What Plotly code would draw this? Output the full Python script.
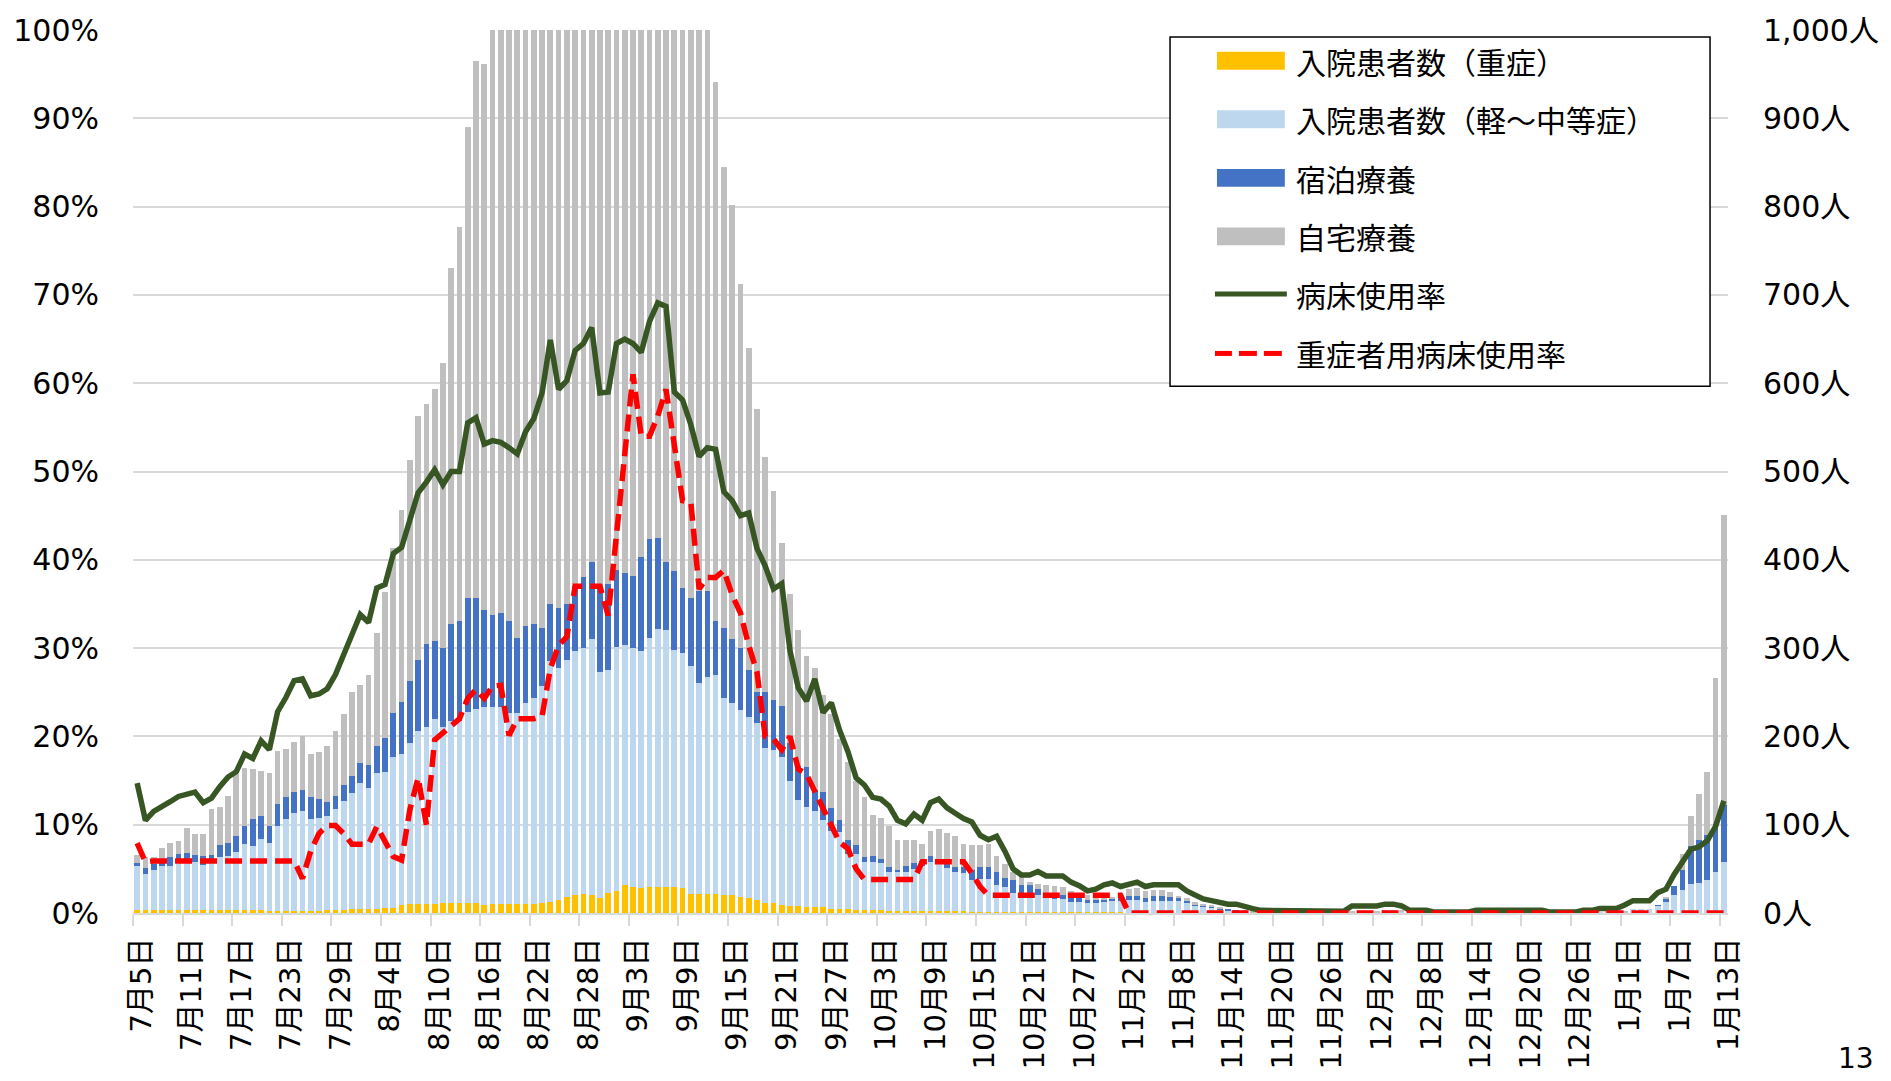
import plotly.graph_objects as go
import pandas as pd

# ---------------- data ----------------
START_DATE = "2021-07-05"
N_DAYS = 193
DATES = pd.date_range(START_DATE, periods=N_DAYS)

TICK_LABELS = ["7月5日", "7月11日", "7月17日", "7月23日", "7月29日", "8月4日", "8月10日",
               "8月16日", "8月22日", "8月28日", "9月3日", "9月9日", "9月15日", "9月21日",
               "9月27日", "10月3日", "10月9日", "10月15日", "10月21日", "10月27日", "11月2日",
               "11月8日", "11月14日", "11月20日", "11月26日", "12月2日", "12月8日", "12月14日",
               "12月20日", "12月26日", "1月1日", "1月7日", "1月13日"]
TICK_EVERY = 6

# 入院患者数（重症） [人]
severe = [3, 3, 3, 3, 3, 3, 3, 3, 3, 3,
          3, 3, 3, 3, 3, 3, 2, 2, 2, 2,
          2, 2, 2, 3, 3, 3, 4, 4, 4, 4,
          6, 6, 9, 10, 10, 10, 10, 11, 11, 11,
          11, 11, 9, 10, 10, 10, 10, 10, 10, 11,
          12, 15, 18, 20, 21, 20, 17, 23, 25, 32,
          30, 28, 30, 30, 30, 29, 28, 22, 22, 22,
          22, 20, 20, 18, 17, 15, 11, 11, 9, 8,
          8, 7, 7, 7, 5, 5, 5, 3, 3, 3,
          3, 2, 2, 2, 2, 2, 2, 2, 2, 2,
          2, 1, 1, 1, 1, 1, 1, 1, 1, 1,
          1, 1, 1, 1, 1, 1, 1, 1, 1, 1,
          0, 0, 0, 0, 0, 0, 0, 0, 0, 0,
          0, 0, 0, 0, 0, 0, 0, 0, 0, 0,
          0, 0, 0, 0, 0, 0, 0, 0, 0, 0,
          0, 0, 0, 0, 0, 0, 0, 0, 0, 0,
          0, 0, 0, 0, 0, 0, 0, 0, 0, 0,
          0, 0, 0, 0, 0, 0, 0, 0, 0, 0,
          0, 0, 0, 0, 0, 0, 0, 0, 0, 0,
          0, 0, 0]

# 入院患者数（軽～中等症） [人]
mild = [50, 41, 46, 50, 50, 54, 54, 55, 51, 58,
        60, 62, 66, 75, 73, 81, 77, 96, 104, 111,
        113, 104, 106, 107, 115, 124, 132, 143, 138, 155,
        154, 171, 171, 183, 196, 201, 210, 200, 207, 207,
        217, 220, 224, 223, 223, 217, 216, 228, 233, 246,
        273, 263, 269, 277, 279, 290, 256, 252, 276, 271,
        270, 269, 282, 292, 290, 269, 267, 258, 238, 245,
        248, 223, 218, 212, 205, 200, 176, 174, 168, 142,
        120, 113, 108, 98, 88, 87, 62, 64, 55, 55,
        54, 45, 45, 45, 48, 51, 56, 56, 49, 45,
        43, 36, 38, 38, 31, 29, 22, 21, 21, 19,
        16, 15, 15, 12, 11, 10, 10, 11, 13, 13,
        15, 15, 12, 14, 14, 14, 14, 11, 9, 7,
        6, 4, 3, 2, 2, 1, 1, 1, 1, 1,
        1, 1, 1, 1, 1, 1, 1, 1, 1, 1,
        1, 2, 2, 2, 1, 1, 1, 1, 1, 1,
        1, 1, 1, 1, 1, 1, 1, 1, 1, 1,
        1, 1, 1, 1, 1, 1, 1, 1, 1, 1,
        1, 4, 4, 4, 8, 12, 20, 26, 33, 34,
        37, 46, 58]

# 宿泊療養 [人]
hotel = [4, 7, 6, 7, 10, 10, 11, 8, 10, 5,
         14, 14, 18, 21, 30, 26, 20, 25, 25, 24,
         24, 25, 21, 16, 15, 18, 19, 23, 26, 30,
         38, 50, 59, 70, 81, 94, 88, 89, 109, 113,
         129, 126, 110, 105, 107, 104, 86, 87, 84, 66,
         65, 67, 63, 73, 80, 87, 97, 98, 88, 82,
         82, 106, 111, 103, 77, 89, 73, 77, 105, 98,
         61, 80, 72, 70, 53, 35, 63, 56, 58, 43,
         39, 45, 24, 32, 26, 13, 16, 10, 5, 7,
         4, 5, 2, 6, 7, 6, 7, 1, 4, 5,
         7, 12, 13, 13, 15, 10, 14, 10, 10, 7,
         6, 4, 4, 5, 5, 4, 4, 3, 2, 3,
         4, 4, 5, 5, 5, 4, 3, 3, 1, 2,
         1, 1, 1, 1, 0, 0, 0, 0, 0, 0,
         0, 0, 0, 0, 0, 0, 0, 0, 0, 0,
         0, 0, 0, 0, 0, 0, 0, 0, 0, 0,
         0, 0, 0, 0, 0, 0, 0, 0, 0, 0,
         0, 0, 0, 0, 0, 0, 0, 0, 0, 0,
         0, 0, 0, 0, 1, 4, 11, 23, 43, 49,
         51, 55, 64]

# 自宅療養 [人] (bars above 1,000人 are cut off by the axis)
home = [9, 12, 8, 14, 16, 14, 28, 24, 26, 52,
        43, 53, 70, 65, 57, 51, 60, 60, 55, 57,
        62, 49, 53, 63, 73, 80, 95, 88, 101, 128,
        165, 186, 217, 250, 276, 271, 285, 323, 403, 446,
        533, 608, 618, 672, 690, 719, 748, 755, 773, 797,
        790, 815, 830, 830, 830, 823, 850, 837, 811, 805,
        798, 757, 717, 695, 703, 693, 692, 683, 655, 640,
        610, 522, 492, 412, 365, 321, 266, 237, 184, 168,
        154, 126, 138, 110, 106, 92, 88, 73, 68, 46,
        47, 46, 34, 30, 26, 19, 28, 36, 36, 35,
        26, 28, 25, 26, 18, 15, 9, 13, 3, 6,
        9, 11, 9, 7, 5, 5, 3, 2, 2, 5,
        8, 9, 8, 7, 7, 6, 2, 3, 2, 1,
        1, 1, 0, 0, 1, 1, 1, 0, 0, 0,
        0, 0, 0, 0, 0, 0, 1, 1, 1, 1,
        1, 1, 1, 1, 1, 0, 0, 0, 0, 0,
        0, 0, 0, 0, 0, 0, 0, 0, 0, 0,
        0, 0, 0, 0, 0, 0, 0, 0, 1, 1,
        1, 0, 0, 0, 0, 2, 0, 18, 34, 52,
        72, 165, 329]

# 病床使用率 [%]
bed_rate = [14.7, 10.5, 11.5, 12.0, 12.6, 13.2, 13.5, 13.7, 12.5, 13.0,
            14.3, 15.4, 16.0, 18.0, 17.5, 19.5, 18.5, 22.8, 24.4, 26.3,
            26.5, 24.6, 24.8, 25.4, 27.0, 29.3, 31.6, 33.8, 32.9, 36.8,
            37.2, 40.7, 41.4, 44.5, 47.6, 48.8, 50.2, 48.5, 50.0, 50.0,
            55.5, 56.1, 53.1, 53.5, 53.3, 52.7, 52.0, 54.5, 56.0, 58.9,
            64.9, 59.3, 60.3, 63.7, 64.5, 66.3, 58.9, 59.0, 64.5, 65.0,
            64.5, 63.5, 67.0, 69.1, 68.7, 59.0, 58.1, 55.3, 51.7, 52.7,
            52.5, 47.7, 46.7, 45.0, 45.3, 41.3, 39.3, 36.7, 37.3, 29.7,
            25.5, 24.0, 26.5, 22.7, 23.8, 20.7, 18.3, 15.3, 14.5, 13.1,
            12.9, 12.1, 10.5, 10.1, 11.2, 10.5, 12.5, 12.9, 11.9, 11.3,
            10.7, 10.3, 8.8, 8.3, 8.7, 7.0, 5.0, 4.3, 4.3, 4.7,
            4.2, 4.2, 4.2, 3.5, 3.1, 2.5, 2.7, 3.2, 3.4, 3.0,
            3.2, 3.5, 3.0, 3.2, 3.2, 3.2, 3.2, 2.5, 2.0, 1.6,
            1.4, 1.2, 1.0, 1.0, 0.7, 0.5, 0.3, 0.3, 0.3, 0.3,
            0.3, 0.3, 0.2, 0.2, 0.2, 0.2, 0.2, 0.8, 0.8, 0.8,
            0.8, 1.0, 1.0, 0.8, 0.3, 0.3, 0.3, 0.1, 0.1, 0.1,
            0.1, 0.1, 0.3, 0.3, 0.3, 0.3, 0.3, 0.3, 0.3, 0.3,
            0.3, 0.1, 0.1, 0.1, 0.1, 0.3, 0.3, 0.5, 0.5, 0.5,
            0.9, 1.4, 1.4, 1.4, 2.3, 2.7, 4.4, 5.7, 7.2, 7.5,
            8.2, 9.8, 12.7]

# 重症者用病床使用率 [%]
severe_bed_rate = [7.9, 5.8, 5.9, 5.9, 5.9, 5.9, 5.9, 5.9, 5.9, 5.9,
                   5.9, 5.9, 5.9, 5.9, 5.9, 5.9, 5.9, 5.9, 5.9, 5.9,
                   3.9, 7.0, 9.0, 9.9, 9.9, 9.0, 7.8, 7.8, 7.8, 9.8,
                   8.2, 6.4, 6.0, 11.7, 15.3, 10.0, 19.6, 20.4, 21.3, 22.0,
                   24.3, 25.3, 24.3, 25.7, 25.8, 20.1, 22.0, 22.0, 22.0, 22.3,
                   27.7, 30.3, 31.3, 37.0, 37.0, 37.0, 37.0, 33.7, 43.0, 52.7,
                   61.0, 54.0, 54.0, 56.3, 59.3, 53.0, 46.7, 46.5, 36.7, 38.0,
                   38.0, 38.8, 36.0, 34.0, 30.3, 27.3, 20.0, 19.7, 18.5, 20.0,
                   16.3, 15.7, 13.7, 11.7, 10.0, 8.0, 7.3, 5.0, 3.8, 3.8,
                   3.8, 3.8, 3.8, 3.8, 3.8, 5.8, 5.8, 5.8, 5.8, 5.8,
                   5.8, 4.5, 3.0, 2.0, 2.0, 2.0, 2.0, 2.0, 2.0, 2.0,
                   2.0, 2.0, 2.0, 2.0, 2.0, 2.0, 2.0, 2.0, 2.0, 2.0,
                   0, 0, 0, 0, 0, 0, 0, 0, 0, 0,
                   0, 0, 0, 0, 0, 0, 0, 0, 0, 0,
                   0, 0, 0, 0, 0, 0, 0, 0, 0, 0,
                   0, 0, 0, 0, 0, 0, 0, 0, 0, 0,
                   0, 0, 0, 0, 0, 0, 0, 0, 0, 0,
                   0, 0, 0, 0, 0, 0, 0, 0, 0, 0,
                   0, 0, 0, 0, 0, 0, 0, 0, 0, 0,
                   0, 0, 0]

SERIES_NAMES = ["入院患者数（重症）", "入院患者数（軽～中等症）", "宿泊療養", "自宅療養",
                "病床使用率", "重症者用病床使用率"]
PAGE_NUMBER = "13"

# ---------------- styling ----------------
W, H = 1891, 1081
PL, PR, PT, PB = 133, 1731, 27, 917          # plot-area pixel box
COL_SEV, COL_MILD, COL_HOTEL, COL_HOME = "#FFC000", "#BDD7EE", "#4472C4", "#BFBFBF"
COL_BED, COL_SBED = "#375623", "#FF0000"
GRID = "#D9D9D9"
FONT = "DejaVu Sans, Noto Sans CJK JP, sans-serif"
CJK = "Noto Sans CJK JP, sans-serif"


def px_x(p):
    return (p - PL) / (PR - PL)


def px_y(p):
    return (PB - p) / (PB - PT)


fig = go.Figure()
bar_colors = [COL_SEV, COL_MILD, COL_HOTEL, COL_HOME]
for name, vals, col in zip(SERIES_NAMES[:4], [severe, mild, hotel, home], bar_colors):
    fig.add_trace(go.Bar(x=DATES, y=vals, name=name, marker=dict(color=col, line_width=0),
                         yaxis="y", showlegend=False))

fig.add_trace(go.Scatter(x=DATES, y=bed_rate, name=SERIES_NAMES[4], mode="lines",
                         line=dict(color=COL_BED, width=5.5), yaxis="y2", showlegend=False))
fig.add_trace(go.Scatter(x=DATES, y=severe_bed_rate, name=SERIES_NAMES[5], mode="lines",
                         line=dict(color=COL_SBED, width=5.5, dash="17px,8px"),
                         yaxis="y2", showlegend=False))

half = pd.Timedelta(hours=12)
tickvals = [DATES[i] - half for i in range(0, N_DAYS, TICK_EVERY)]

fig.update_layout(
    width=W, height=H,
    margin=dict(l=PL, r=W - PR, t=PT, b=H - PB, pad=0),
    paper_bgcolor="white", plot_bgcolor="white",
    font=dict(family=FONT, size=30, color="#000000"),
    barmode="stack", bargap=0.31,
    showlegend=False,
    xaxis=dict(type="date", range=[DATES[0] - half, DATES[-1] + half],
               tickmode="array", tickvals=tickvals, ticktext=TICK_LABELS,
               tickangle=-90, ticks="outside", ticklen=11, tickwidth=2, tickcolor=GRID,
               showline=True, linecolor=GRID, linewidth=2, showgrid=False, zeroline=False,
               ticklabelshift=9, tickfont=dict(family=FONT, size=29, color="#000000")),
    yaxis=dict(side="right", range=[0, 1000], tickmode="linear", tick0=0, dtick=100,
               tickformat=",d", ticksuffix="人", showgrid=True, gridcolor=GRID, gridwidth=2,
               zeroline=False, ticks="", ticklabelstandoff=34,
               tickfont=dict(family=FONT, size=30, color="#000000")),
    yaxis2=dict(side="left", overlaying="y", range=[0, 100], tickmode="linear", tick0=0,
                dtick=10, ticksuffix="%", showgrid=False, zeroline=False, ticks="",
                ticklabelstandoff=33, tickfont=dict(family=FONT, size=30, color="#000000")),
)

# ---------------- legend (drawn as in the original, boxed) ----------------
shapes = [dict(type="rect", xref="paper", yref="paper",
               x0=px_x(1172), x1=px_x(1713), y0=px_y(386), y1=px_y(34),
               line=dict(color="#000000", width=1.5), fillcolor="white", layer="above")]
row_y = [58, 117, 176, 235, 293, 353]
for yc, col in zip(row_y[:4], bar_colors):
    shapes.append(dict(type="rect", xref="paper", yref="paper",
                       x0=px_x(1219), x1=px_x(1287), y0=px_y(yc + 9), y1=px_y(yc - 9),
                       line_width=0, fillcolor=col, layer="above"))
shapes.append(dict(type="line", xref="paper", yref="paper",
                   x0=px_x(1217), x1=px_x(1289), y0=px_y(row_y[4]), y1=px_y(row_y[4]),
                   line=dict(color=COL_BED, width=5), layer="above"))
for a, b in [(1217, 1234), (1241, 1259), (1266, 1284)]:
    shapes.append(dict(type="line", xref="paper", yref="paper",
                       x0=px_x(a), x1=px_x(b), y0=px_y(row_y[5]), y1=px_y(row_y[5]),
                       line=dict(color=COL_SBED, width=5), layer="above"))

annotations = []
for yc, name in zip(row_y, SERIES_NAMES):
    annotations.append(dict(xref="paper", yref="paper", x=px_x(1296), y=px_y(yc),
                            xanchor="left", yanchor="middle", showarrow=False, text=name,
                            font=dict(family=CJK, size=30, color="#000000")))
annotations.append(dict(xref="paper", yref="paper", x=px_x(1859), y=px_y(1081),
                        xanchor="center", yanchor="bottom", showarrow=False, text=PAGE_NUMBER,
                        borderpad=0, font=dict(family=FONT, size=28, color="#000000")))
fig.update_layout(shapes=shapes, annotations=annotations)

fig.write_html("out.html", config={"displayModeBar": False},
               post_script="document.body.style.margin='0';document.body.style.overflow='hidden';")
